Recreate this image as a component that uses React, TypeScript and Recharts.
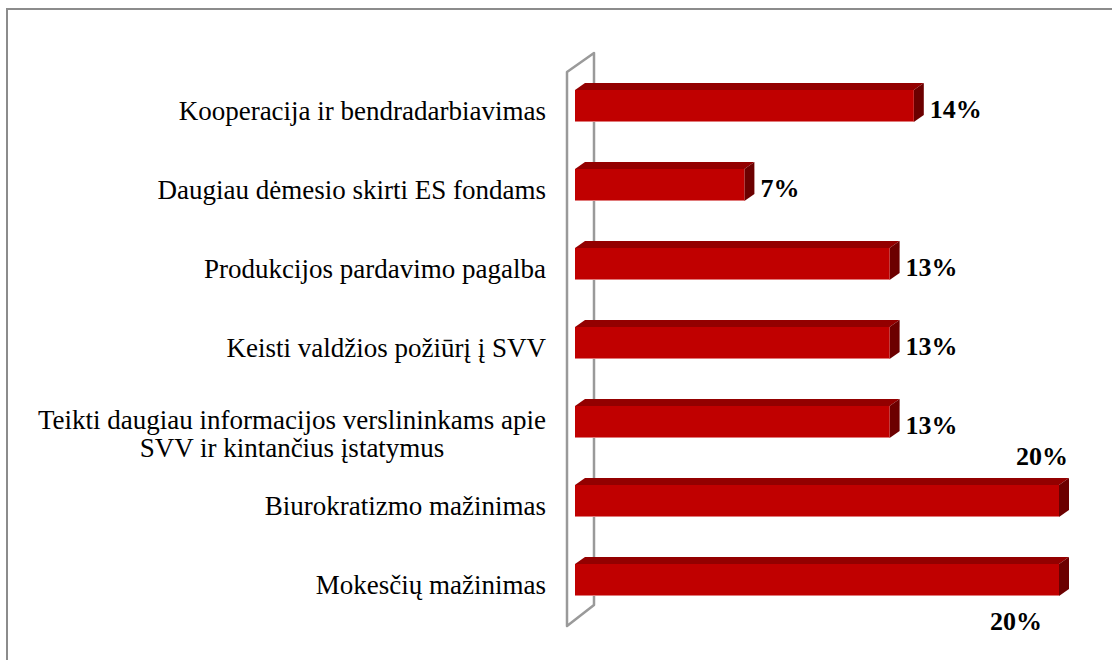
import { Bar, BarChart, XAxis, YAxis } from "recharts"

const categories = [
  "Kooperacija ir bendradarbiavimas",
  "Daugiau dėmesio skirti ES fondams",
  "Produkcijos pardavimo pagalba",
  "Keisti valdžios požiūrį į SVV",
  "Teikti daugiau informacijos verslininkams apie\nSVV ir kintančius įstatymus",
  "Biurokratizmo mažinimas",
  "Mokesčių mažinimas",
]

const values = [14, 7, 13, 13, 13, 20, 20]

const data = categories.map((name, i) => ({ name, value: values[i] }))

const FONT = '"Liberation Serif", "Times New Roman", serif'
const TICK_SIZE = 27
const LABEL_SIZE = 26
const DX = 10
const DY = 7

// where excel put each data label
const labelSpot = ["right", "right", "right", "right", "right", "above", "below"]

function measure(text: string) {
  try {
    const ctx = document.createElement("canvas").getContext("2d")
    if (ctx) {
      ctx.font = `${TICK_SIZE}px ${FONT}`
      return ctx.measureText(text).width
    }
  } catch (e) {}
  return text.length * 11
}

function CategoryTick({ x, y, payload }: any) {
  const lines = String(payload.value).split("\n")
  const style = { fontFamily: FONT, fontSize: TICK_SIZE, fill: "#000" }
  if (lines.length === 1) {
    return (
      <text x={x} y={y + 14} textAnchor="end" style={style}>
        {lines[0]}
      </text>
    )
  }
  const w = Math.max(...lines.map(measure))
  const cx = x - w / 2
  const first = y + 7
  return (
    <text textAnchor="middle" style={style}>
      {lines.map((l, i) => (
        <tspan key={i} x={cx} y={first + i * 28}>
          {l}
        </tspan>
      ))}
    </text>
  )
}

function Bar3D(props: any) {
  const { x, y, width, height, index, payload } = props
  const r = x + width
  const spot = labelSpot[index] || "right"
  let lx = r + DX + 6
  let ly = y + height / 2 + 11.5
  let anchor = "start"
  if (spot === "above") {
    lx = r - 17
    ly = y - 20
    anchor = "middle"
  } else if (spot === "below") {
    lx = r - 43
    ly = y + height + 34
    anchor = "middle"
  }
  return (
    <g>
      <polygon
        points={`${x},${y} ${x + DX},${y - DY} ${r + DX},${y - DY} ${r},${y}`}
        fill="#930000"
      />
      <polygon
        points={`${r},${y} ${r + DX},${y - DY} ${r + DX},${y + height - DY} ${r},${y + height}`}
        fill="#6c0000"
      />
      <rect x={x} y={y} width={width} height={height} fill="#C00000" />
      <line x1={x} y1={y + height - 0.5} x2={r} y2={y + height - 0.5} stroke="#e07a7a" strokeWidth={1} />
      <text
        x={lx}
        y={ly}
        textAnchor={anchor}
        style={{ fontFamily: FONT, fontSize: LABEL_SIZE, fontWeight: "bold", fill: "#000" }}
      >
        {`${payload.value}%`}
      </text>
    </g>
  )
}

export default function App() {
  return (
    <div
      style={{
        position: "fixed",
        left: 0,
        top: 0,
        width: 1112,
        height: 660,
        overflow: "hidden",
        background: "#fff",
      }}
    >
      <div
        style={{
          position: "absolute",
          left: 6,
          top: 8,
          width: 1200,
          height: 800,
          border: "2px solid #8c8c8c",
        }}
      />
      <svg width={1112} height={660} style={{ position: "absolute", left: 0, top: 0 }}>
        <polygon
          points="567,72 594,53 594,605 567,626"
          fill="none"
          stroke="#9a9a9a"
          strokeWidth={2.5}
          strokeLinejoin="round"
        />
      </svg>
      <div style={{ position: "absolute", left: 0, top: 0 }}>
        <BarChart
          width={1112}
          height={660}
          data={data}
          layout="vertical"
          margin={{ top: 66, right: 53, bottom: 41, left: 0 }}
        >
          <XAxis type="number" domain={[0, 20]} hide />
          <YAxis
            type="category"
            dataKey="name"
            width={575}
            tickSize={0}
            tickMargin={29}
            axisLine={false}
            tickLine={false}
            interval={0}
            tick={<CategoryTick />}
          />
          <Bar dataKey="value" barSize={32} shape={<Bar3D />} isAnimationActive={false} />
        </BarChart>
      </div>
    </div>
  )
}
